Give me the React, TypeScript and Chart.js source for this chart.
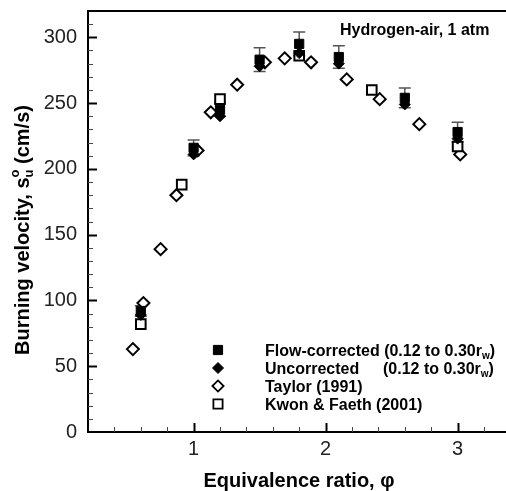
import React, { useEffect, useRef } from 'react';
import { Chart, registerables } from 'chart.js';

Chart.register(...registerables);

// ---- Data ----
const flowX = [0.6, 1.0, 1.2, 1.5, 1.8, 2.1, 2.6, 3.0];
const flowY = [92, 216, 245, 283, 295, 285, 254, 228];
const flowErr = [4, 6, 5, 9, 9, 8.5, 7.5, 7.5];
const uncorrX = [0.6, 1.0, 1.2, 1.5, 1.8, 2.1, 2.6, 3.0];
const uncorrY = [89, 211, 240, 278, 288, 280, 249, 223];
const taylorX = [0.54, 0.62, 0.75, 0.87, 1.03, 1.13, 1.33, 1.54, 1.69, 1.89, 2.16, 2.41, 2.71, 3.02];
const taylorY = [63, 98, 139, 180, 214, 243, 264, 281, 284, 281, 268, 253, 234, 211];
const kwonX = [0.6, 0.91, 1.2, 1.8, 2.35, 3.0];
const kwonY = [82, 188, 253, 286, 260, 217];

const xMin = 0.2;
const xMax = 3.3667;
const yMin = 0;
const yMax = 320;
const yLabelStep = 50;
const yMinorStep = 10;
const xMinorStep = 0.2;

const FONT = '"Liberation Sans", Arial, Helvetica, sans-serif';

function pts(xs: number[], ys: number[]) {
  return xs.map((x, i) => ({ x, y: ys[i] }));
}

function drawMarker(ctx: CanvasRenderingContext2D, kind: string, x: number, y: number, r: number, filled: boolean, lw: number) {
  ctx.save();
  ctx.beginPath();
  if (kind === 'rect') {
    ctx.rect(x - r, y - r, 2 * r, 2 * r);
  } else {
    ctx.moveTo(x - r, y);
    ctx.lineTo(x, y - r);
    ctx.lineTo(x + r, y);
    ctx.lineTo(x, y + r);
    ctx.closePath();
  }
  ctx.fillStyle = filled ? '#000' : '#fff';
  ctx.fill();
  ctx.lineWidth = lw;
  ctx.strokeStyle = '#000';
  ctx.stroke();
  ctx.restore();
}

const overlay = {
  id: 'overlay',
  beforeDatasetsDraw(chart: any) {
    const ctx: CanvasRenderingContext2D = chart.ctx;
    const xs = chart.scales.x;
    const ys = chart.scales.y;
    ctx.save();
    ctx.strokeStyle = '#555';
    ctx.lineWidth = 1.5;
    flowX.forEach((xv, i) => {
      const px = xs.getPixelForValue(xv);
      const top = ys.getPixelForValue(flowY[i] + flowErr[i]);
      const bot = ys.getPixelForValue(flowY[i] - flowErr[i]);
      ctx.beginPath();
      ctx.moveTo(px, top);
      ctx.lineTo(px, bot);
      ctx.moveTo(px - 6, top);
      ctx.lineTo(px + 6, top);
      ctx.moveTo(px - 6, bot);
      ctx.lineTo(px + 6, bot);
      ctx.stroke();
    });
    ctx.restore();
  },
  afterDraw(chart: any) {
    const ctx: CanvasRenderingContext2D = chart.ctx;
    const area = chart.chartArea;
    const xs = chart.scales.x;
    const ys = chart.scales.y;
    ctx.save();
    ctx.strokeStyle = '#000';
    ctx.lineCap = 'butt';

    // axis frame: left, bottom, top
    ctx.lineWidth = 2;
    ctx.beginPath();
    ctx.moveTo(area.left, area.top);
    ctx.lineTo(area.left, area.bottom);
    ctx.lineTo(area.right, area.bottom);
    ctx.moveTo(area.left - 1, area.top);
    ctx.lineTo(area.right, area.top);
    ctx.stroke();

    // y ticks (inside)
    for (let v = yMin + yMinorStep; v < yMax - 1e-6; v += yMinorStep) {
      const py = Math.round(ys.getPixelForValue(v)) + 0.5;
      const major = Math.abs(v % yLabelStep) < 1e-6;
      ctx.lineWidth = major ? 2 : 1;
      ctx.strokeStyle = major ? '#000' : '#444';
      ctx.beginPath();
      ctx.moveTo(area.left, py);
      ctx.lineTo(area.left + (major ? 9 : 5), py);
      ctx.stroke();
    }
    // x ticks (inside)
    for (let v = xMin + xMinorStep; v < xMax - 1e-6; v += xMinorStep) {
      const px = Math.round(xs.getPixelForValue(v)) + 0.5;
      const major = Math.abs(v - Math.round(v)) < 1e-6;
      ctx.lineWidth = major ? 2 : 1;
      ctx.strokeStyle = major ? '#000' : '#444';
      ctx.beginPath();
      ctx.moveTo(px, area.bottom);
      ctx.lineTo(px, area.bottom - (major ? 9 : 5));
      ctx.stroke();
    }

    ctx.fillStyle = '#000';
    ctx.textAlign = 'left';
    ctx.textBaseline = 'alphabetic';

    // annotation
    ctx.font = `bold 16px ${FONT}`;
    ctx.fillText('Hydrogen-air, 1 atm', 340, 35);

    // x title
    ctx.font = `bold 20px ${FONT}`;
    const xt = 'Equivalence ratio, \u03c6';
    const xtw = ctx.measureText(xt).width;
    ctx.fillText(xt, 299 - xtw / 2, 487);

    // y title (rotated) with superscript/subscript
    ctx.save();
    ctx.translate(29, 230);
    ctx.rotate(-Math.PI / 2);
    const p1 = 'Burning velocity, s';
    const p3 = ' (cm/s)';
    ctx.font = `bold 20px ${FONT}`;
    const w1 = ctx.measureText(p1).width;
    const w3 = ctx.measureText(p3).width;
    ctx.font = `bold 13px ${FONT}`;
    const wsup = ctx.measureText('o').width;
    const wsub = ctx.measureText('u').width;
    const wmid = Math.max(wsup, wsub);
    const total = w1 + wmid + w3;
    let cx = -total / 2;
    ctx.font = `bold 20px ${FONT}`;
    ctx.fillText(p1, cx, 0);
    cx += w1;
    ctx.font = `bold 13px ${FONT}`;
    ctx.fillText('o', cx, -10);
    ctx.fillText('u', cx, 4);
    cx += wmid;
    ctx.font = `bold 20px ${FONT}`;
    ctx.fillText(p3, cx, 0);
    ctx.restore();

    // legend
    const lx = 218;
    const rows = [350, 368, 386, 404];
    drawMarker(ctx, 'rect', lx, rows[0], 4.6, true, 1);
    drawMarker(ctx, 'diamond', lx, rows[1], 5.5, true, 1);
    drawMarker(ctx, 'diamond', lx, rows[2], 5.6, false, 1.8);
    drawMarker(ctx, 'rect', lx, rows[3], 4.6, false, 1.8);

    const tx = 265;
    const drawRw = (label: string, x: number, base: number) => {
      ctx.font = `bold 16px ${FONT}`;
      ctx.fillText(label, x, base);
      let w = ctx.measureText(label).width;
      ctx.font = `bold 10px ${FONT}`;
      ctx.fillText('w', x + w, base + 3);
      w += ctx.measureText('w').width;
      ctx.font = `bold 16px ${FONT}`;
      ctx.fillText(')', x + w, base);
    };
    ctx.font = `bold 16px ${FONT}`;
    ctx.fillText('Flow-corrected ', tx, rows[0] + 6);
    const fw = ctx.measureText('Flow-corrected ').width;
    drawRw('(0.12 to 0.30r', tx + fw, rows[0] + 6);
    ctx.font = `bold 16px ${FONT}`;
    ctx.fillText('Uncorrected', tx, rows[1] + 6);
    drawRw('(0.12 to 0.30r', 383, rows[1] + 6);
    ctx.font = `bold 16px ${FONT}`;
    ctx.fillText('Taylor (1991)', tx, rows[2] + 6);
    ctx.fillText('Kwon & Faeth (2001)', tx, rows[3] + 6);

    ctx.restore();
  },
};

const zeroPad = (s: any) => {
  s.paddingTop = 0;
  s.paddingBottom = 0;
  s.paddingLeft = 0;
  s.paddingRight = 0;
};

export default function App() {
  const ref = useRef<HTMLCanvasElement>(null);
  useEffect(() => {
    document.body.style.margin = '0';
    const canvas = ref.current;
    if (!canvas) return;
    const chart = new Chart(canvas, {
      type: 'scatter',
      data: {
        datasets: [
          {
            label: 'Flow-corrected (0.12 to 0.30rw)',
            data: pts(flowX, flowY),
            pointStyle: 'rect',
            pointRadius: 6.5,
            backgroundColor: '#000',
            borderColor: '#000',
            borderWidth: 1,
          },
          {
            label: 'Uncorrected (0.12 to 0.30rw)',
            data: pts(uncorrX, uncorrY),
            pointStyle: 'rectRot',
            pointRadius: 5.5,
            backgroundColor: '#000',
            borderColor: '#000',
            borderWidth: 1,
          },
          {
            label: 'Kwon & Faeth (2001)',
            data: pts(kwonX, kwonY),
            pointStyle: 'rect',
            pointRadius: 6.8,
            backgroundColor: '#fff',
            borderColor: '#000',
            borderWidth: 2,
          },
          {
            label: 'Taylor (1991)',
            data: pts(taylorX, taylorY),
            pointStyle: 'rectRot',
            pointRadius: 6,
            backgroundColor: '#fff',
            borderColor: '#000',
            borderWidth: 2,
          },
        ],
      },
      options: {
        animation: false,
        responsive: false,
        maintainAspectRatio: false,
        layout: { autoPadding: false, padding: { top: 11, right: 0, left: 0, bottom: 0 } },
        plugins: { legend: { display: false }, tooltip: { enabled: false } },
        scales: {
          x: {
            type: 'linear',
            min: xMin,
            max: xMax,
            afterFit: (s: any) => { s.height = 59; zeroPad(s); },
            grid: { display: false, drawTicks: false },
            border: { display: false },
            ticks: {
              stepSize: 0.2,
              autoSkip: false,
              maxRotation: 0,
              padding: 5,
              color: '#222',
              font: { family: FONT, size: 20 },
              callback: (v: any) => {
                const n = Number(v);
                return Math.abs(n - Math.round(n)) < 1e-6 ? String(Math.round(n)) : '';
              },
            },
          },
          y: {
            type: 'linear',
            min: yMin,
            max: yMax,
            afterFit: (s: any) => { s.width = 88; zeroPad(s); },
            grid: { display: false, drawTicks: false },
            border: { display: false },
            ticks: {
              stepSize: 10,
              autoSkip: false,
              padding: 11,
              color: '#222',
              font: { family: FONT, size: 20 },
              callback: (v: any) => {
                const n = Number(v);
                return Math.abs(n % yLabelStep) < 1e-6 ? String(n) : '';
              },
            },
          },
        },
      },
      plugins: [overlay],
    } as any);
    return () => chart.destroy();
  }, []);
  return <canvas ref={ref} width={506} height={491} style={{ display: 'block', width: 506, height: 491 }} />;
}
